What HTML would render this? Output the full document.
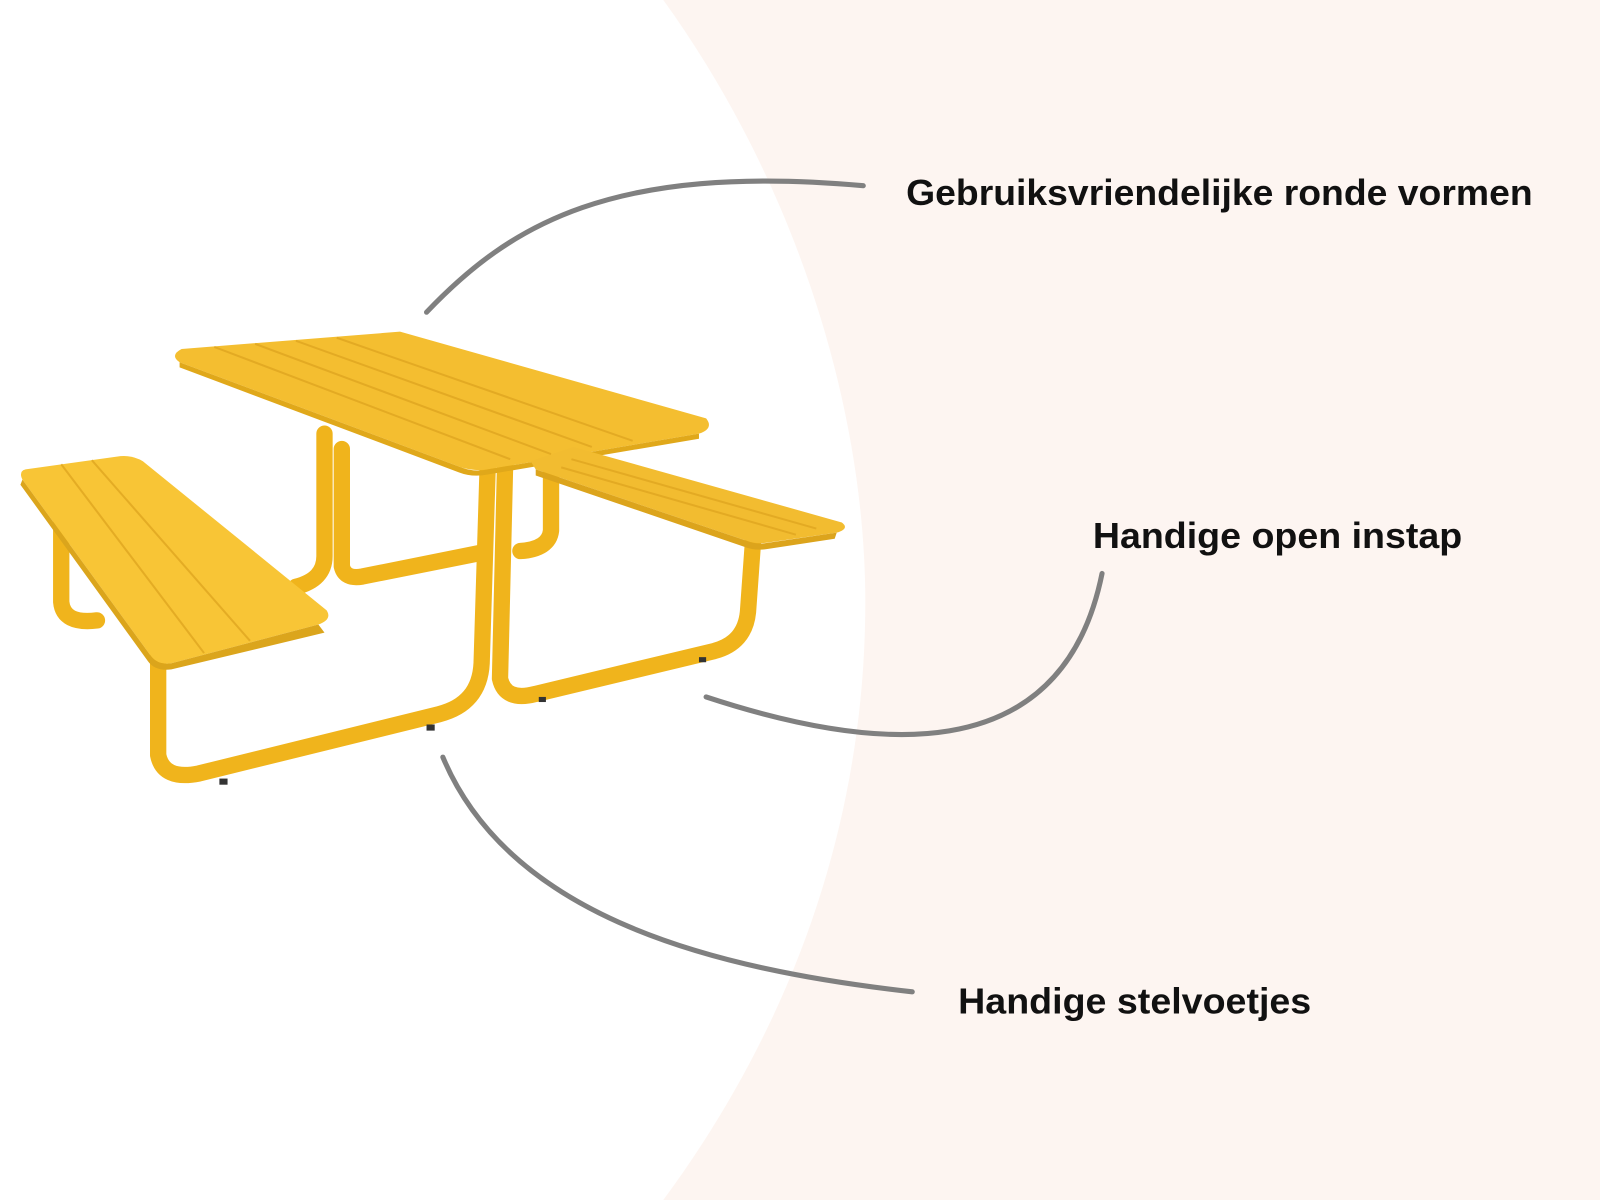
<!DOCTYPE html>
<html><head><meta charset="utf-8"><style>html,body{margin:0;padding:0;background:#fff}svg{display:block}</style></head>
<body>
<svg width="1600" height="1200" viewBox="0 0 1568 1176" xmlns="http://www.w3.org/2000/svg">
<rect width="1568" height="1176" fill="#fdf5f1"/>
<path d="M0,0 L650,0 C780,180 848,400 848,590 C848,800 780,1000 650,1176 L0,1176 Z" fill="#ffffff"/>
<g fill="none" stroke="#808080" stroke-width="5" stroke-linecap="round">
<path d="M418,306 C500,220 600,160 846,182"/>
<path d="M692,683 C850,735 1040,760 1080,562"/>
<path d="M434,742 C500,900 700,950 894,972"/>
</g>
<g font-family="'Liberation Sans',sans-serif" font-weight="bold" font-size="35" fill="#111">
<text x="888" y="201" textLength="614" lengthAdjust="spacingAndGlyphs">Gebruiksvriendelijke ronde vormen</text>
<text x="1071" y="537" textLength="362" lengthAdjust="spacingAndGlyphs">Handige open instap</text>
<text x="939" y="993" textLength="346" lengthAdjust="spacingAndGlyphs">Handige stelvoetjes</text>
</g>
<!-- legs -->
<g fill="none" stroke="#f0b41c" stroke-width="16" stroke-linecap="round" stroke-linejoin="round">
<path d="M318,425 L318,545 Q318,568 290,575"/>
<path d="M335,440 L335,555 Q338,568 355,565 L470,542"/>
<path d="M540,455 L540,520 Q538,538 510,540"/>
<path d="M60,505 L60,590 Q62,612 95,608"/>
<path d="M155,640 L155,740 Q160,765 195,758 L430,700 Q470,690 472,650 L478,455"/>
<path d="M495,455 L490,665 Q495,688 525,680 L700,638 Q730,630 733,600 L738,530"/>
</g>
<!-- table top -->
<path d="M178,342 L392,325 L692,410 Q700,420 685,425 L478,460 Q465,462 452,458 L176,355 Q166,348 178,342 Z" fill="#f4be30"/>
<path d="M176,355 L452,458 Q465,463 478,460 L685,425 L685,430 L478,465 Q463,468 450,463 L176,360 Z" fill="#e0a81a"/>
<!-- left bench -->
<path d="M25,460 L118,447 Q130,446 140,452 L320,598 Q326,607 312,612 L168,650 Q155,652 148,643 L22,470 Q18,462 25,460 Z" fill="#f8c536"/>
<path d="M22,470 L148,643 Q155,652 168,650 L312,612 L318,620 L168,656 Q152,658 145,648 L20,475 Z" fill="#dba51c"/>
<!-- right bench -->
<path d="M520,452 L562,438 L825,512 Q833,518 820,522 L750,532 Q740,533 732,530 L525,460 Z" fill="#f2bc30"/>
<path d="M525,460 L732,530 Q742,534 752,532 L820,522 L818,528 L752,538 Q740,540 730,536 L525,466 Z" fill="#dca41c"/>
<g stroke="#e0a620" stroke-width="2" opacity="0.8">
<line x1="210" y1="340" x2="500" y2="450"/><line x1="250" y1="337" x2="540" y2="445"/>
<line x1="290" y1="334" x2="580" y2="438"/><line x1="330" y1="331" x2="620" y2="432"/>
<line x1="60" y1="455" x2="200" y2="640"/><line x1="90" y1="451" x2="245" y2="628"/>
<line x1="560" y1="450" x2="800" y2="518"/><line x1="550" y1="458" x2="780" y2="524"/>
</g>
<g fill="#333"><rect x="215" y="763" width="8" height="6"/><rect x="418" y="710" width="8" height="6"/><rect x="528" y="683" width="7" height="5"/><rect x="685" y="644" width="7" height="5"/></g>
</svg>
</body></html>
